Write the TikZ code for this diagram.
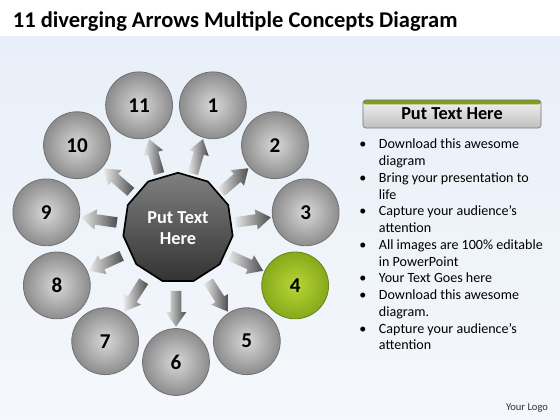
\documentclass[tikz,border=0pt]{standalone}
\usepackage{fontspec}
\setmainfont{Carlito}
\usetikzlibrary{shapes.geometric,shapes.arrows,calc}
\definecolor{bgblue}{HTML}{E8EFF8}
\definecolor{leafgreen}{HTML}{7E9E1C}
\definecolor{ballgreen}{HTML}{B9D637}
\definecolor{ballgreendark}{HTML}{86A91B}

\begin{document}
\begin{tikzpicture}[x=0.025cm,y=0.025cm,
  ball/.style={circle,minimum size=1.67cm,inner sep=0pt,draw=black!55,line width=0.6pt,
    inner color=black!15,outer color=black!45,font=\fontsize{15}{15}\selectfont\bfseries},
  greenball/.style={ball,draw=ballgreendark!80!black,inner color=ballgreen,outer color=ballgreendark},
  hubgon/.style={regular polygon,regular polygon sides=11,minimum size=2.76cm,inner sep=0pt,
    draw=black,line width=1.2pt,top color=black!50,bottom color=black!80,text=white,align=center,
    font=\fontsize{13}{15}\selectfont\bfseries},
  fatarrow/.style={single arrow,draw=none,minimum height=0.9cm,minimum width=0.5cm,inner sep=0.125cm,
    single arrow head extend=0.125cm,single arrow tip angle=70,left color=black!8,right color=black!70},
  hdrbox/.style={rectangle,rounded corners=2pt,minimum width=4.45cm,minimum height=0.7cm,draw=black!55,
    top color=black!5,bottom color=black!25,font=\fontsize{13}{14}\selectfont\bfseries,
    path picture={\fill[leafgreen] (path picture bounding box.north west) rectangle ([yshift=-0.11cm]path picture bounding box.north east);}}]
\useasboundingbox (0,0) rectangle (560,420);
\fill[white] (0,0) rectangle (560,420);
\shade[top color=bgblue,bottom color=bgblue!45!white] (0,0) rectangle (560,383);

% title
\node[anchor=base west,font=\fontsize{16}{17}\selectfont\bfseries] (title) at (8,392) {11 diverging Arrows Multiple Concepts Diagram};

% hub, arrows and balls
\coordinate (o) at (176,189);
\foreach \k [evaluate=\k as \a using {-90+(6-\k)*360/11}] in {1,...,11} {
  \node[fatarrow,rotate=\a] (arr\k) at ($(o)+(\a:74)$) {};
  \ifnum\k=4
    \node[greenball] (c\k) at ($(o)+(\a:131)$) {\k};
  \else
    \node[ball] (c\k) at ($(o)+(\a:131)$) {\k};
  \fi
}
\node[hubgon] (hub) at (178,192) {Put Text\\Here};

% right panel
\node[hdrbox] (hdr) at (452,306) {Put Text Here};
\node[anchor=north west,inner sep=0pt,font=\fontsize{10}{11.9}\selectfont] (notes) at (359,283) {%
  \begin{tabular}{@{}l@{\hspace{9pt}}l@{}}
  \textbullet & Download this awesome\\
              & diagram\\
  \textbullet & Bring your presentation to\\
              & life\\
  \textbullet & Capture your audience’s\\
              & attention\\
  \textbullet & All images are 100\% editable\\
              & in PowerPoint\\
  \textbullet & Your Text Goes here\\
  \textbullet & Download this awesome\\
              & diagram.\\
  \textbullet & Capture your audience’s\\
              & attention
  \end{tabular}};

\node[font=\fontsize{7.5}{8}\selectfont,text=black!80] (logo) at (527,12) {Your Logo};
\end{tikzpicture}
\end{document}
